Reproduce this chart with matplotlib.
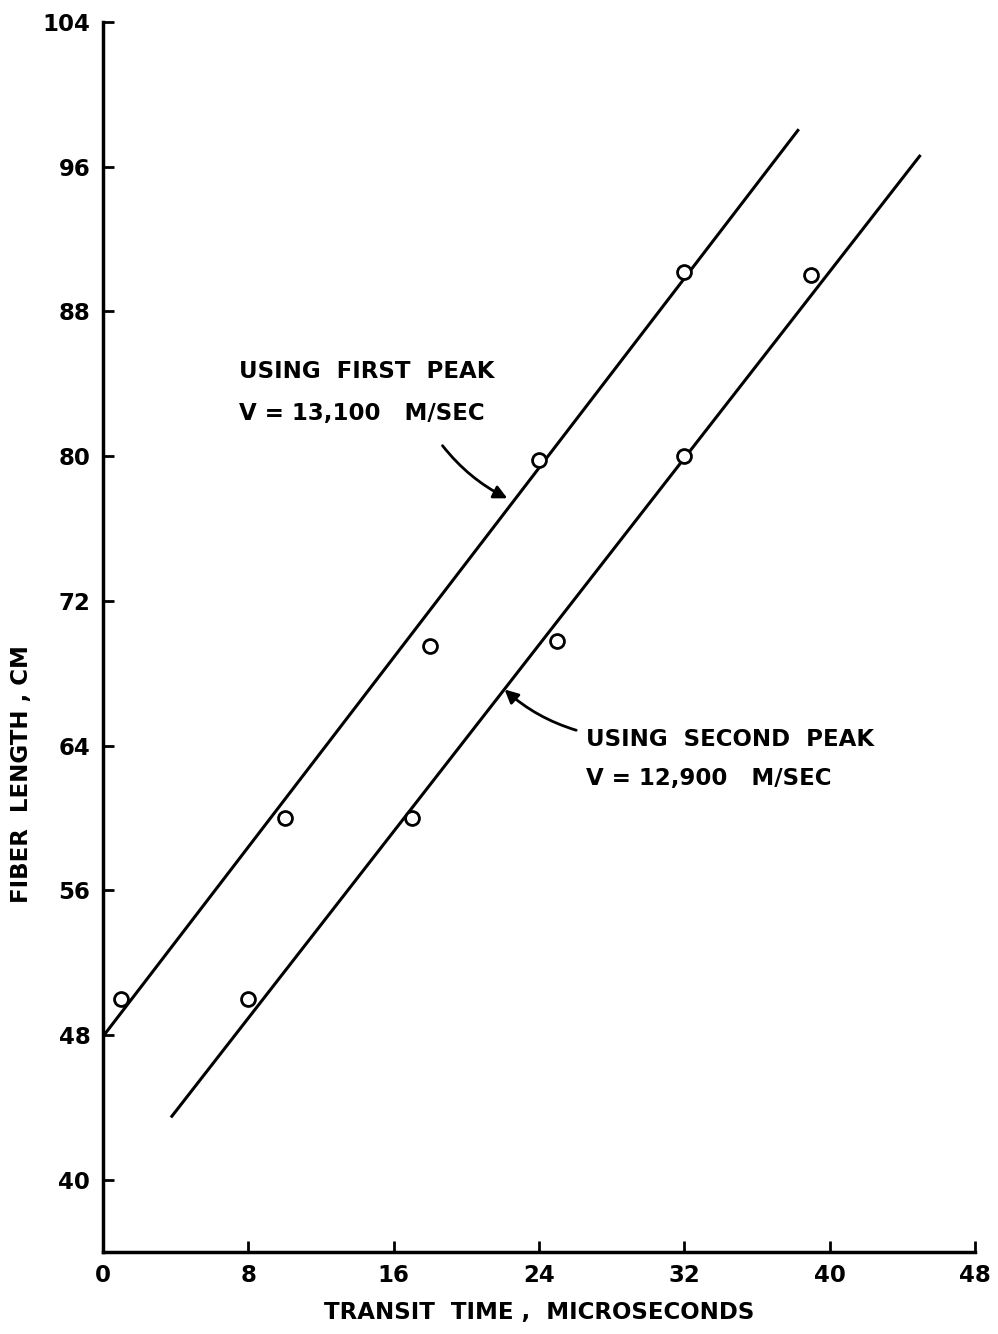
import matplotlib.pyplot as plt
import numpy as np

# measured transit times (microseconds) and fiber lengths (cm)
t_first = [1, 10, 18, 24, 32]
len_first = [50, 60, 69.5, 79.8, 90.2]
t_second = [8, 17, 25, 32, 39]
len_second = [50, 60, 69.8, 80, 90]

# fitted lines: intercept (cm), slope (cm/us), x range
fit_first = (47.9, 1.31, 0.0, 38.3)
fit_second = (38.6, 1.29, 3.75, 45.0)

xticks = [0, 8, 16, 24, 32, 40, 48]
yticks = [40, 48, 56, 64, 72, 80, 88, 96, 104]

plt.rcParams['font.family'] = ['DejaVu Sans']
plt.rcParams['font.weight'] = 'bold'
FS = 16.5

fig = plt.figure(figsize=(9.98, 13.34), dpi=100)
ax = fig.add_axes([0.103, 0.0615, 0.874, 0.922])

for b, m, x0, x1 in (fit_first, fit_second):
    xs = np.array([x0, x1])
    ax.plot(xs, b + m * xs, color='black', lw=2.2, solid_capstyle='butt')

ax.plot(t_first, len_first, 'o', ms=10, mfc='white', mec='black', mew=2, zorder=3)
ax.plot(t_second, len_second, 'o', ms=10, mfc='white', mec='black', mew=2, zorder=3)

ax.set_xlim(0, 48)
ax.set_ylim(36, 104)
ax.set_xticks(xticks)
ax.set_yticks(yticks)
ax.tick_params(direction='in', length=8, width=2, labelsize=FS, pad=9)
for s in ('top', 'right'):
    ax.spines[s].set_visible(False)
for s in ('left', 'bottom'):
    ax.spines[s].set_linewidth(2.5)

ax.set_xlabel('TRANSIT  TIME ,  MICROSECONDS', fontsize=FS, fontweight='bold', labelpad=10)
fig.text(0.022, 0.42, 'FIBER  LENGTH , CM', rotation=90, fontsize=FS,
         fontweight='bold', ha='center', va='center')

ax.text(7.5, 84.3, 'USING  FIRST  PEAK', fontsize=FS, fontweight='bold')
ax.text(7.5, 82.0, 'V = 13,100   M/SEC', fontsize=FS, fontweight='bold')
ax.annotate('', xy=(22.4, 77.6), xytext=(18.6, 80.7),
            arrowprops=dict(arrowstyle='-|>', color='black', lw=2,
                            mutation_scale=20, connectionstyle='arc3,rad=0.12'))

ax.text(26.6, 64.0, 'USING  SECOND  PEAK', fontsize=FS, fontweight='bold')
ax.text(26.6, 61.8, 'V = 12,900   M/SEC', fontsize=FS, fontweight='bold')
ax.annotate('', xy=(22.0, 67.2), xytext=(26.2, 64.8),
            arrowprops=dict(arrowstyle='-|>', color='black', lw=2,
                            mutation_scale=20, connectionstyle='arc3,rad=-0.12'))

fig.savefig('out.png', dpi=100)
